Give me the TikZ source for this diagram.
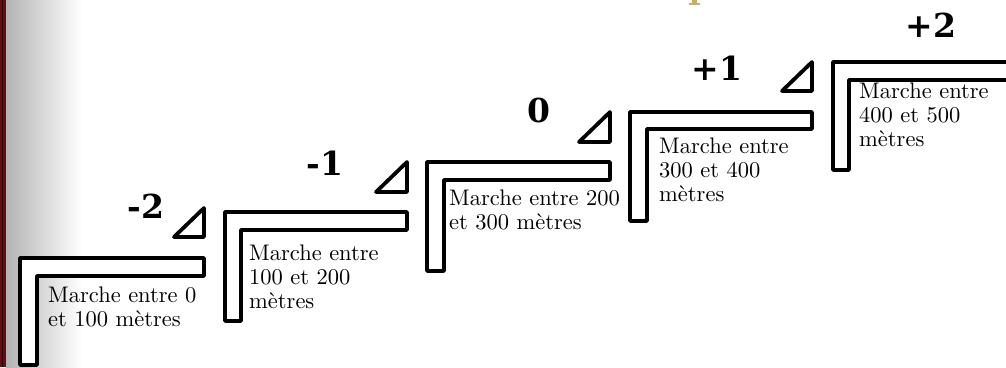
\documentclass[tikz,border=0pt]{standalone}
\usepackage{fontspec}
\newfontfamily\descfont{lmroman10-regular.otf}
\newfontfamily\lvlfont{DejaVu Serif}
\definecolor{darkred}{RGB}{105,12,14}
\definecolor{gold}{RGB}{204,174,96}
\begin{document}
\begin{tikzpicture}[x=1pt,y=-1pt,
  stepline/.style={draw=black,fill=white,line width=3.8pt,line join=round},
  tri/.style={draw=black,fill=white,line width=3.8pt,line join=round},
  lvl/.style={font=\lvlfont\fontsize{33}{36}\selectfont\bfseries,anchor=base,inner sep=0pt},
  desc/.style={font=\descfont\fontsize{22.5}{24}\selectfont,anchor=north west,align=left,inner sep=0pt}]
\useasboundingbox (0,0) rectangle (1006,367);
% left border and shading
\shade[left color=black!30,right color=white] (6,0) rectangle (82,367);
\fill[darkred] (0,0) rectangle (6,367);
\draw[black,line width=1pt] (2.5,0) -- (2.5,367);
% golden fragment at top
\fill[gold] (692,0) rectangle (697,3.5);
\fill[gold] (689,3) rectangle (700,5);
% steps
\draw[stepline] (20,258) -- (204,258) -- (204,276) -- (37,276) -- (37,365) -- (20,365) -- cycle;
\draw[stepline] (225,212) -- (407,212) -- (407,230) -- (241,230) -- (241,321) -- (225,321) -- cycle;
\draw[stepline] (427,162) -- (610,162) -- (610,180) -- (444,180) -- (444,271) -- (427,271) -- cycle;
\draw[stepline] (630,112) -- (812,112) -- (812,129) -- (647,129) -- (647,221) -- (630,221) -- cycle;
\draw[stepline] (833,62) -- (1015,62) -- (1015,80) -- (849,80) -- (849,170) -- (833,170) -- cycle;
% triangles
\draw[tri] (204,208) -- (204,237) -- (174,237) -- cycle;
\draw[tri] (407,162) -- (407,192) -- (376,192) -- cycle;
\draw[tri] (610,112) -- (610,142) -- (579,142) -- cycle;
\draw[tri] (812,62) -- (812,91) -- (782,91) -- cycle;
% level labels
\node[lvl] (lm2) at (146,218) {-2};
\node[lvl] (lm1) at (325,175) {-1};
\node[lvl] (l0) at (539,122) {0};
\node[lvl] (lp1) at (717,80) {+1};
\node[lvl] (lp2) at (931,37) {+2};
% descriptions
\node[desc] (d1) at (48,287) {Marche entre 0\\et 100 mètres};
\node[desc] (d2) at (249,245) {Marche entre\\100 et 200\\mètres};
\node[desc] (d3) at (449,190) {Marche entre 200\\et 300 mètres};
\node[desc] (d4) at (659,138) {Marche entre\\300 et 400\\mètres};
\node[desc] (d5) at (859,83) {Marche entre\\400 et 500\\mètres};
\end{tikzpicture}
\end{document}
